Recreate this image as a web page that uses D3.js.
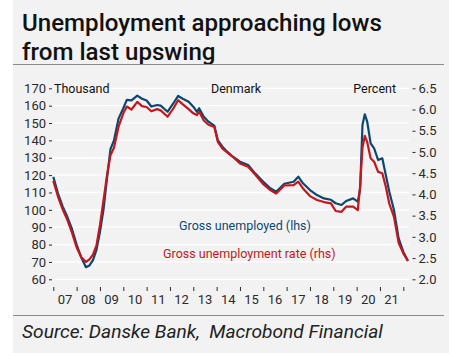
<!DOCTYPE html>
<html><head><meta charset="utf-8">
<script src="https://cdn.jsdelivr.net/npm/d3@7"></script>
<style>
html,body{margin:0;padding:0;background:#fff;}
svg{display:block;}
text{font-family:Roboto, "Liberation Sans", sans-serif;}
</style></head>
<body>
<svg id="c" width="449" height="353"></svg>
<script>
// ---- data (decimal year) ----
const dates = [2007.0,2007.2,2007.4,2007.6,2007.8,2008.0,2008.2,2008.4,2008.55,2008.7,2008.85,
  2009.0,2009.15,2009.3,2009.45,2009.6,2009.8,2010.0,2010.15,2010.35,2010.6,2010.8,
  2011.0,2011.2,2011.45,2011.6,2011.9,2012.15,2012.35,2012.55,2012.8,2013.0,2013.15,2013.25,
  2013.45,2013.65,2013.9,2014.05,2014.25,2014.45,2014.7,2015.0,2015.35,2015.65,2016.0,2016.3,
  2016.55,2016.9,2017.3,2017.5,2017.7,2018.0,2018.3,2018.6,2018.9,2019.1,2019.35,2019.55,
  2019.85,2020.05,2020.15,2020.25,2020.35,2020.45,2020.6,2020.75,2020.92,2021.1,2021.25,
  2021.4,2021.6,2021.8,2022.0,2022.2];
const grossUnemployed = [119,109.5,102,96,89,80,72.5,67,68,71,77,
  87.4,100,118,135,140,152.7,158.5,163.3,163,165.8,164,
  163,159.5,160.4,160,156.5,161.4,165.6,164,162.3,159.4,156.5,158.5,
  153.6,150.8,148.5,140.2,136.4,133.5,130.6,127.7,125.8,121,116.2,112.4,
  110.4,115,116.2,119.1,115.3,111.4,108.5,106.6,105.8,103.8,102.8,105.1,
  106.6,104.7,112,148.9,155,151,138.3,135.4,128.7,129.7,120.1,
  110.4,99.9,83.6,75.9,70.5];
const grossRate = [4.32,3.95,3.65,3.40,3.10,2.75,2.52,2.41,2.47,2.58,2.80,
  3.28,3.85,4.45,4.92,5.10,5.60,5.91,6.07,6.00,6.18,6.08,
  6.06,5.96,6.01,5.98,5.83,6.03,6.22,6.12,6.01,5.91,5.87,5.95,
  5.74,5.64,5.59,5.24,5.08,4.99,4.88,4.73,4.65,4.47,4.24,4.10,
  4.02,4.21,4.22,4.30,4.14,3.96,3.87,3.82,3.79,3.61,3.59,3.71,
  3.71,3.63,4.2,5.1,5.38,5.24,4.85,4.77,4.53,4.50,4.18,
  3.78,3.47,2.86,2.61,2.43];
const leftTicks = [60,70,80,90,100,110,120,130,140,150,160,170];
const rightTicks = [2.0,2.5,3.0,3.5,4.0,4.5,5.0,5.5,6.0,6.5];
const yearTicks = d3.range(2007, 2023);
const yearLabels = ["07","08","09","10","11","12","13","14","15","16","17","18","19","20","21"];

const blue = "#0b4870", red = "#c4161c", txt = "#2b2b2b";
const svg = d3.select("#c");

// background panel
svg.append("rect").attr("x",13).attr("y",0).attr("width",436).attr("height",353).attr("fill","#f2f2f2");

function fitWidth(sel, w){
  const n = sel.node(); const len = n.getComputedTextLength();
  const fs = parseFloat(sel.attr("font-size"));
  sel.attr("font-size", (fs*w/len).toFixed(2));
}

// title
const t1 = svg.append("text").attr("x",22).attr("y",31).attr("font-size",23).attr("font-weight",500)
  .attr("fill","#111").text("Unemployment approaching lows");
fitWidth(t1, 360);
const t2 = svg.append("text").attr("x",22).attr("y",59.5).attr("font-size",t1.attr("font-size")).attr("font-weight",500)
  .attr("fill","#111").text("from last upswing");

svg.append("line").attr("x1",13).attr("x2",444).attr("y1",64.5).attr("y2",64.5).attr("stroke","#8a8a8a").attr("stroke-width",1.2);
svg.append("line").attr("x1",13).attr("x2",444).attr("y1",315.5).attr("y2",315.5).attr("stroke","#8a8a8a").attr("stroke-width",1.2);

// scales
const x = d3.scaleLinear().domain([2007,2022]).range([53.3,403.3]);
const yL = d3.scaleLinear().domain([60,170]).range([279.3,88.3]);
const yR = d3.scaleLinear().domain([2.0,6.5]).range([279.3,88.3]);

// gridlines
svg.append("g").selectAll("line").data(leftTicks).join("line")
  .attr("x1",53).attr("x2",409).attr("y1",d=>yL(d)).attr("y2",d=>yL(d))
  .attr("stroke","#ffffff").attr("stroke-width",1.3);

// left axis
const gl = svg.append("g").attr("transform","translate(52,0)")
  .call(d3.axisLeft(yL).tickValues(leftTicks).tickSize(3).tickPadding(3).tickFormat(d3.format("d")));
gl.select(".domain").remove();
gl.selectAll("line").attr("stroke",txt);
gl.selectAll("text").attr("font-size",13).attr("fill",txt).attr("font-family","Roboto, sans-serif");

// right axis
const gr = svg.append("g").attr("transform","translate(412.5,0)")
  .call(d3.axisRight(yR).tickValues(rightTicks).tickSize(3).tickPadding(3).tickFormat(d3.format(".1f")));
gr.select(".domain").remove();
gr.selectAll("line").attr("stroke",txt);
gr.selectAll("text").attr("font-size",13).attr("fill",txt).attr("font-family","Roboto, sans-serif");

// x axis ticks
const gx = svg.append("g").attr("transform","translate(0,287)")
  .call(d3.axisBottom(x).tickValues(yearTicks).tickSize(4).tickFormat(""));
gx.select(".domain").remove();
gx.selectAll("line").attr("stroke",txt);
svg.append("g").selectAll("text").data(yearLabels).join("text")
  .attr("x",(d,i)=>x(2007+i+0.5)).attr("y",303.5).attr("text-anchor","middle")
  .attr("font-size",13).attr("fill",txt).text(d=>d);

// lines
const rows = dates.map((d,i)=>({t:d,u:grossUnemployed[i],r:grossRate[i]}));
svg.append("path").datum(rows).attr("fill","none").attr("stroke",blue).attr("stroke-width",2.2)
  .attr("stroke-linejoin","round").attr("d",d3.line().x(d=>x(d.t)).y(d=>yL(d.u)));
svg.append("path").datum(rows).attr("fill","none").attr("stroke",red).attr("stroke-width",2.2)
  .attr("stroke-linejoin","round").attr("d",d3.line().x(d=>x(d.t)).y(d=>yR(d.r)));

// annotations
svg.append("text").attr("x",54).attr("y",92.8).attr("font-size",12.5).attr("fill","#111").text("Thousand");
svg.append("text").attr("x",236).attr("y",92.8).attr("font-size",12.5).attr("fill","#111").attr("text-anchor","middle").text("Denmark");
svg.append("text").attr("x",396).attr("y",92.8).attr("font-size",12.5).attr("fill","#111").attr("text-anchor","end").text("Percent");
svg.append("text").attr("x",179).attr("y",229.5).attr("font-size",12.5).attr("fill",blue).text("Gross unemployed (lhs)");
svg.append("text").attr("x",163).attr("y",257.5).attr("font-size",12.5).attr("fill",red).text("Gross unemployment rate (rhs)");

// source
const s = svg.append("text").attr("x",22).attr("y",337.5).attr("font-size",15).attr("font-style","italic")
  .attr("fill","#222").attr("xml:space","preserve").style("white-space","pre").text("Source: Danske Bank,  Macrobond Financial");
fitWidth(s, 361);
</script>
</body></html>
